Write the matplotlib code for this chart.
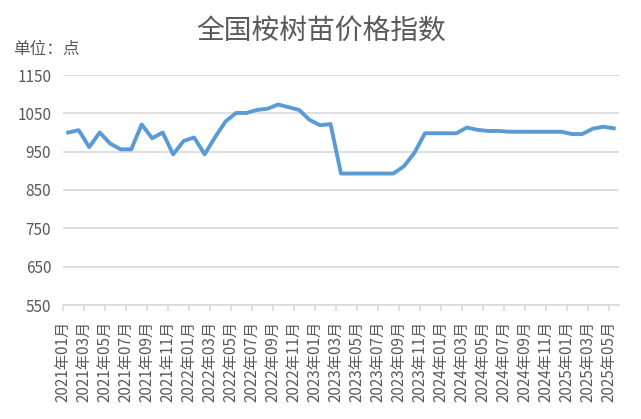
import numpy as np
import matplotlib.pyplot as plt

plt.rcParams['font.family'] = ['Noto Sans CJK SC', 'DejaVu Sans']

# monthly categories, 2021-01 .. 2025-05
months = [f"{y}年{m:02d}月" for y in range(2021, 2026) for m in range(1, 13)][:53]
values = [
    1000, 1006, 962, 1000, 971, 956, 956, 1021, 985, 1000, 943, 978,    # 2021
    987, 943, 988, 1029, 1051, 1051, 1059, 1062, 1073, 1066, 1059, 1033,  # 2022
    1019, 1022, 893, 893, 893, 893, 893, 893, 912, 947, 998, 998,       # 2023
    998, 998, 1013, 1007, 1004, 1004, 1002, 1002, 1002, 1002, 1002, 1002,  # 2024
    996, 996, 1010, 1015, 1011,                                         # 2025
]
yticks = [550, 650, 750, 850, 950, 1050, 1150]

grey = '#595959'
grid = '#d9d9d9'

fig = plt.figure(figsize=(6.41, 4.19), dpi=100)
ax = fig.add_axes([63 / 641, 1 - 305 / 419, 556 / 641, 230 / 419])

x = np.arange(len(values))
ax.plot(x, values, color='#5b9bd5', linewidth=2.8, solid_joinstyle='round', zorder=3)

ax.set_xlim(-0.5, len(values) - 0.5)
ax.set_ylim(550, 1150)
ax.set_yticks(yticks)
ax.yaxis.grid(True, color=grid, linewidth=1.2)
ax.set_axisbelow(True)

# label every second month, ticks on category boundaries
ax.set_xticks(x[::2] - 0.5)
ax.set_xticklabels(months[::2], rotation=90, fontsize=11, color=grey)
ax.tick_params(axis='x', direction='out', length=4, width=1.2, color=grid, pad=7.5)
ax.tick_params(axis='y', length=0, pad=8.5, labelsize=11, labelcolor=grey)

for s in ['top', 'right', 'left']:
    ax.spines[s].set_visible(False)
ax.spines['bottom'].set_color(grid)
ax.spines['bottom'].set_linewidth(1.2)

fig.text(321 / 641, 1 - 31 / 419, '全国桉树苗价格指数', ha='center', va='center',
         fontsize=20, color=grey)
fig.text(13 / 641, 1 - 49 / 419, '单位：点', ha='left', va='center',
         fontsize=12, color=grey)

fig.savefig('out.png', dpi=100)
